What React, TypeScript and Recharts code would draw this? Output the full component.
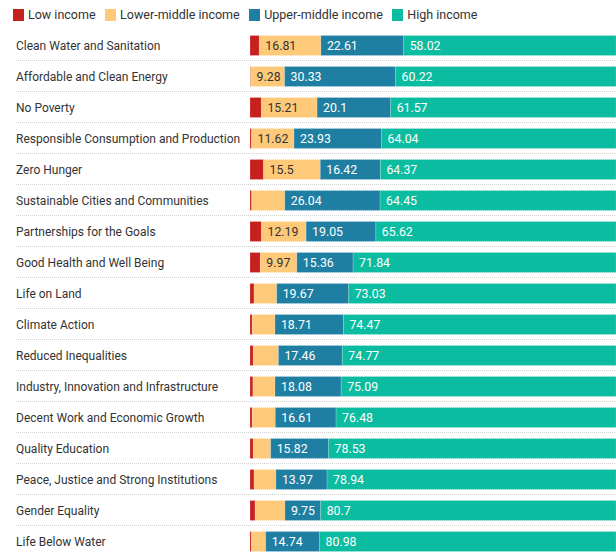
import React from "react";
import { BarChart, Bar, XAxis, YAxis, LabelList } from "recharts";

const categories = [
  "Clean Water and Sanitation",
  "Affordable and Clean Energy",
  "No Poverty",
  "Responsible Consumption and Production",
  "Zero Hunger",
  "Sustainable Cities and Communities",
  "Partnerships for the Goals",
  "Good Health and Well Being",
  "Life on Land",
  "Climate Action",
  "Reduced Inequalities",
  "Industry, Innovation and Infrastructure",
  "Decent Work and Economic Growth",
  "Quality Education",
  "Peace, Justice and Strong Institutions",
  "Gender Equality",
  "Life Below Water",
];
const lowIncome = [2.56, 0.17, 3.12, 0.41, 3.71, 0.46, 3.14, 2.83, 1.1, 0.62, 0.9, 0.8, 0.6, 0.9, 1.1, 1.4, 0.4];
const lowerMiddle = [16.81, 9.28, 15.21, 11.62, 15.5, 9.05, 12.19, 9.97, 6.2, 6.2, 6.87, 6.03, 6.31, 4.75, 5.99, 8.15, 3.88];
const upperMiddle = [22.61, 30.33, 20.1, 23.93, 16.42, 26.04, 19.05, 15.36, 19.67, 18.71, 17.46, 18.08, 16.61, 15.82, 13.97, 9.75, 14.74];
const highIncome = [58.02, 60.22, 61.57, 64.04, 64.37, 64.45, 65.62, 71.84, 73.03, 74.47, 74.77, 75.09, 76.48, 78.53, 78.94, 80.7, 80.98];

const seriesNames = ["Low income", "Lower-middle income", "Upper-middle income", "High income"];
const seriesKeys = ["low", "lowerMiddle", "upperMiddle", "high"];
const colors = ["#c8201f", "#fec979", "#1f7fa3", "#0bbca0"];
const labelColors = ["#ffffff", "#333333", "#ffffff", "#ffffff"];

const data = categories.map((name, i) => ({
  name,
  low: lowIncome[i],
  lowerMiddle: lowerMiddle[i],
  upperMiddle: upperMiddle[i],
  high: highIncome[i],
}));

const FONT = "Roboto, sans-serif";

const CategoryTick = (props: any) => {
  const { y, payload, index } = props;
  return (
    <g>
      <text x={16} y={y} dy="0.38em" textAnchor="start" fontSize={12} fill="#333" fontFamily={FONT}>
        {payload.value}
      </text>
      {index < categories.length - 1 && (
        <line x1={16} x2={616} y1={y + 15.5} y2={y + 15.5} stroke="#d0d0d0" strokeDasharray="1 1" strokeWidth={1} />
      )}
    </g>
  );
};

const makeLabel = (color: string) => (props: any) => {
  const { x, y, width, height, value } = props;
  if (value == null || value < 9.2) return null;
  return (
    <text x={x + 6} y={y + height / 2} dy="0.38em" fontSize={12.3} fill={color} fontFamily={FONT}>
      {value}
    </text>
  );
};

const LegendBar = () => (
  <div
    style={{
      position: "absolute",
      top: 8,
      left: 13,
      display: "flex",
      fontFamily: FONT,
      fontSize: 12.5,
      color: "#333",
      lineHeight: "14px",
    }}
  >
    {seriesNames.map((n, i) => (
      <div key={n} style={{ display: "flex", alignItems: "center", marginRight: 9.5 }}>
        <span style={{ display: "inline-block", width: 11, height: 12, background: colors[i], marginRight: 4 }} />
        <span>{n}</span>
      </div>
    ))}
  </div>
);

export default function App() {
  return (
    <div
      style={{
        position: "fixed",
        top: 0,
        left: 0,
        width: 616,
        height: 552,
        overflow: "hidden",
        background: "#fff",
      }}
    >
      <LegendBar />
      <BarChart
        width={616}
        height={560}
        data={data}
        layout="vertical"
        margin={{ top: 29.5, right: 0, bottom: 3.5, left: 0 }}
        barSize={20}
      >
        <XAxis type="number" domain={[0, 100]} hide />
        <YAxis
          type="category"
          dataKey="name"
          width={250}
          tickLine={false}
          axisLine={false}
          tick={<CategoryTick />}
          interval={0}
        />
        {seriesKeys.map((k, i) => (
          <Bar
            key={k}
            dataKey={k}
            stackId="a"
            fill={colors[i]}
            stroke="#ffffff"
            strokeOpacity={0.35}
            strokeWidth={0.5}
            isAnimationActive={false}
          >
            {i > 0 && <LabelList dataKey={k} content={makeLabel(labelColors[i])} />}
          </Bar>
        ))}
      </BarChart>
    </div>
  );
}
